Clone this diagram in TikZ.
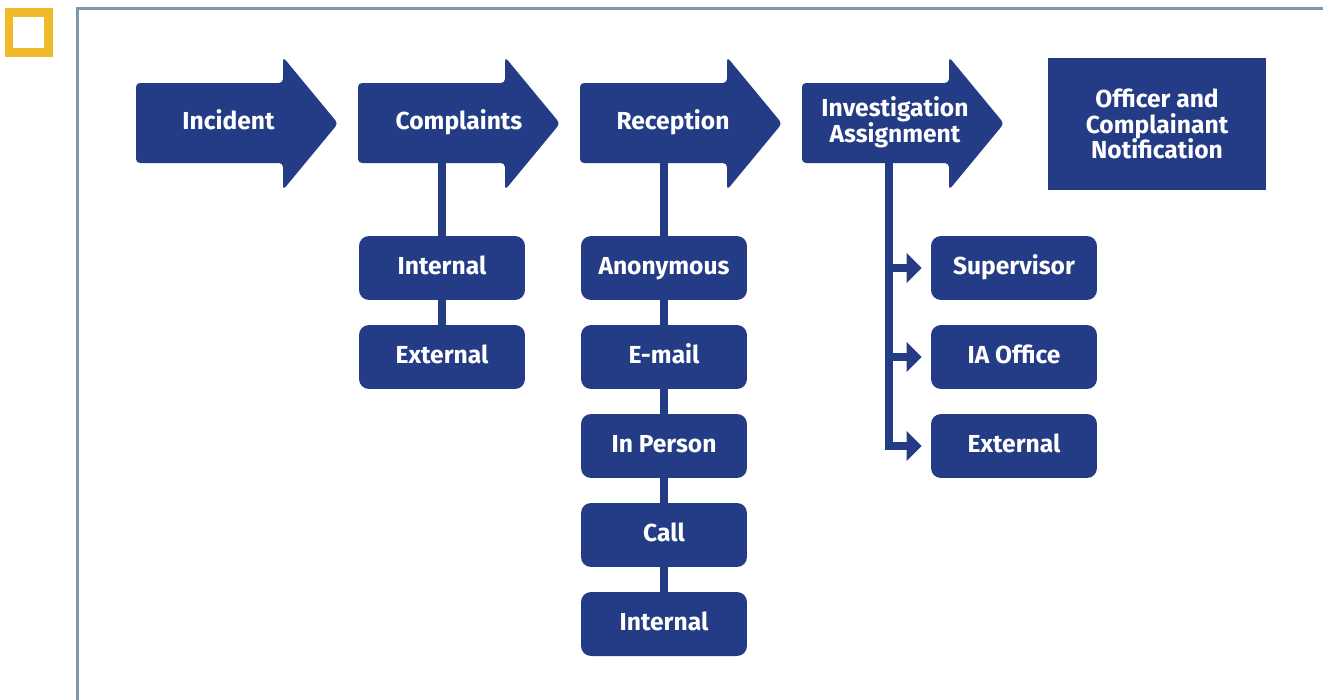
\documentclass[tikz,border=0pt]{standalone}
\usepackage{fontspec}
\newfontfamily\flowfont{Fira Sans}
\usetikzlibrary{arrows.meta}
\definecolor{navy}{RGB}{36,60,133}
\definecolor{framegray}{RGB}{125,152,168}
\definecolor{markyellow}{RGB}{240,186,43}
\begin{document}
\begin{tikzpicture}[x=0.02cm,y=-0.02cm,
    flowlabel/.style={text=white,font=\flowfont\bfseries\fontsize{14}{14.7}\selectfont,align=center,inner sep=0pt},
    oneline/.style={flowlabel,text height=3.4mm,text depth=0.8mm},
    stagetext/.style={oneline,minimum height=1.6cm},
    option/.style={oneline,fill=navy,rounded corners=2mm,minimum width=3.32cm,minimum height=1.28cm},
    notice/.style={flowlabel,fill=navy,minimum width=4.36cm,minimum height=2.64cm},
    link/.style={draw=navy,line width=1.6mm},
    tip/.style={-{Triangle[length=3mm,width=5.8mm]},shorten >=1.8mm}]
    \useasboundingbox (0,0) rectangle (1323,700);
    % frame and corner mark
    \draw[framegray,line width=0.6mm] (1330,8.7) -- (77,8.7) -- (77,710);
    \draw[markyellow,line width=1.65mm] (9.2,12.5) rectangle (48.6,52.6);

    % stage arrows
    \foreach \x in {136,358,580,802}
        \fill[navy,rounded corners=0.8mm] (\x,83) -- (\x+147,83) -- (\x+147,57) -- (\x+202,123.5)
            -- (\x+147,190) -- (\x+147,163) -- (\x,163) -- cycle;
    \node[stagetext] (incident) at (228.5,123) {Incident};
    \node[stagetext] (complaints) at (459,123) {Complaints};
    \node[stagetext] (reception) at (673,123) {Reception};
    \node[flowlabel,minimum height=1.6cm] (investigation) at (895,122) {Investigation\\Assignment};
    \node[notice] (notification) at (1157,124) {Officer and\\Complainant\\Notification};

    % complaint sources
    \node[option] (cinternal) at (442,268) {Internal};
    \node[option] (cexternal) at (442,357) {External};
    \path[link] (cinternal.north |- complaints.south) -- (cinternal.north);
    \path[link] (cinternal.south) -- (cexternal.north);

    % reception channels
    \node[option] (anonymous) at (664,268) {Anonymous};
    \node[option] (email) at (664,357) {E-mail};
    \node[option] (inperson) at (664,446) {In Person};
    \node[option] (call) at (664,535) {Call};
    \node[option] (rinternal) at (664,624) {Internal};
    \path[link] (anonymous.north |- reception.south) -- (anonymous.north);
    \path[link] (anonymous.south) -- (email.north);
    \path[link] (email.south) -- (inperson.north);
    \path[link] (inperson.south) -- (call.north);
    \path[link] (call.south) -- (rinternal.north);

    % investigation assignment
    \node[option] (supervisor) at (1014,268) {Supervisor};
    \node[option] (iaoffice) at (1014,357) {IA Office};
    \node[option] (iexternal) at (1014,446) {External};
    \coordinate (trunk) at (889,160);
    \path[link,tip] (trunk) |- (iexternal.west);
    \path[link,tip] (trunk |- supervisor.west) -- (supervisor.west);
    \path[link,tip] (trunk |- iaoffice.west) -- (iaoffice.west);
\end{tikzpicture}
\end{document}
